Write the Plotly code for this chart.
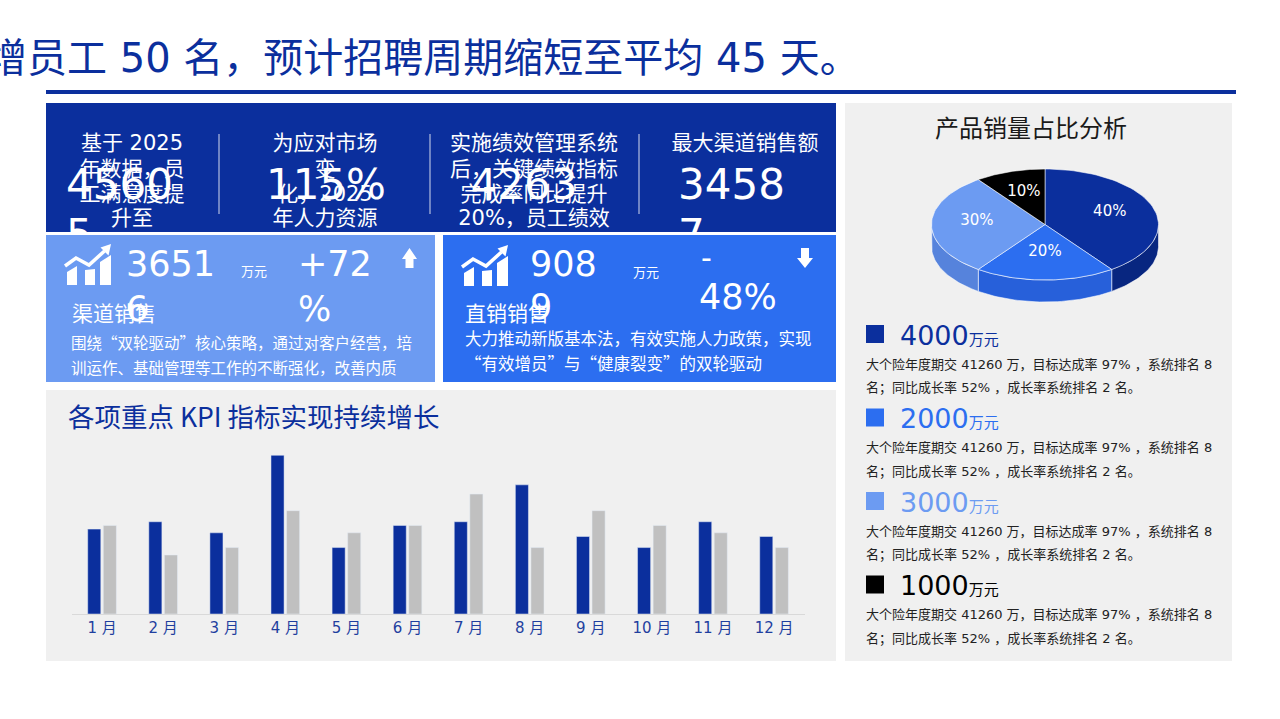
import numpy as np
import plotly.graph_objects as go

W, H = 1280, 719
FONT = "DejaVu Sans, Noto Sans CJK SC, sans-serif"
CJK = "Noto Sans CJK SC, DejaVu Sans, sans-serif"

NAVY = "#0b2f9d"
BLUE = "#2c6ef0"
LIGHT = "#6c9bf2"
PANEL = "#f0f0f0"
BAR_GRAY = "#c0c0c0"

# ---- data ----
months = ["1 月", "2 月", "3 月", "4 月", "5 月", "6 月",
          "7 月", "8 月", "9 月", "10 月", "11 月", "12 月"]
kpi_actual = [4.6, 5.0, 4.4, 8.6, 3.6, 4.8, 5.0, 7.0, 4.2, 3.6, 5.0, 4.2]
kpi_target = [4.8, 3.2, 3.6, 5.6, 4.4, 4.8, 6.5, 3.6, 5.6, 4.8, 4.4, 3.6]

pie_shares = [40, 20, 30, 10]
pie_labels = ["40%", "20%", "30%", "10%"]
pie_top_colors = [NAVY, BLUE, LIGHT, "#000000"]
pie_side_colors = ["#082680", "#2760da", "#5683dc", "#000000"]

legend_values = ["4000", "2000", "3000", "1000"]
legend_colors = [NAVY, BLUE, LIGHT, "#000000"]
legend_text1 = "大个险年度期交 41260 万，目标达成率 97% ，系统排名 8"
legend_text2 = "名；同比成长率 52% ，成长率系统排名 2 名。"

headline = "新增员工 50 名，预计招聘周期缩短至平均 45 天。"


def px(x):
    return x / W


def py(y):
    return 1 - y / H


fig = go.Figure()

# ---- 3D-looking pie on a pixel axis (x / y) ----
cx, cy, rx, ry, depth = 1045, 224.5, 113.5, 55.5, 22


def ell(t, dy=0.0):
    t = np.radians(t)
    return cx + rx * np.sin(t), cy - ry * np.cos(t) + dy


bounds = np.concatenate([[0], np.cumsum(pie_shares)]) / sum(pie_shares) * 360
edge = dict(color="rgba(255,255,255,0.55)", width=1)

# side walls (front half only)
for i in range(len(pie_shares)):
    a, b = max(bounds[i], 90), min(bounds[i + 1], 270)
    if a >= b:
        continue
    t = np.linspace(a, b, 40)
    xt, yt = ell(t)
    xb, yb = ell(t[::-1], depth)
    fig.add_trace(go.Scatter(
        x=np.concatenate([xt, xb, xt[:1]]), y=np.concatenate([yt, yb, yt[:1]]),
        mode="lines", fill="toself", fillcolor=pie_side_colors[i], line=edge,
        xaxis="x", yaxis="y", hoverinfo="skip"))

# top faces
for i in range(len(pie_shares)):
    t = np.linspace(bounds[i], bounds[i + 1], 60)
    xt, yt = ell(t)
    fig.add_trace(go.Scatter(
        x=np.concatenate([[cx], xt, [cx]]), y=np.concatenate([[cy], yt, [cy]]),
        mode="lines", fill="toself", fillcolor=pie_top_colors[i], line=edge,
        xaxis="x", yaxis="y", hoverinfo="skip"))

mid = np.radians((bounds[:-1] + bounds[1:]) / 2)
fig.add_trace(go.Scatter(
    x=cx + 0.6 * rx * np.sin(mid), y=cy - 0.55 * ry * np.cos(mid) - 3,
    mode="text", text=pie_labels,
    textfont=dict(family=FONT, size=15, color="white"),
    xaxis="x", yaxis="y", hoverinfo="skip"))

# ---- KPI bars ----
fig.add_trace(go.Bar(x=months, y=kpi_actual, marker_color=NAVY,
                     xaxis="x2", yaxis="y2", hoverinfo="skip"))
fig.add_trace(go.Bar(x=months, y=kpi_target, marker_color=BAR_GRAY,
                     xaxis="x2", yaxis="y2", hoverinfo="skip"))

# ---- texts in the dark banner (clipped to the banner) ----
banner = [
    (132, 145, "基于 2025", 21, "middle center"),
    (132, 171, "年数据，员", 21, "middle center"),
    (132, 196, "工满意度提", 21, "middle center"),
    (132, 220, "升至", 21, "middle center"),
    (66, 188, "4560", 42, "middle right"),
    (66, 238, "5", 42, "middle right"),
    (325, 145, "为应对市场", 21, "middle center"),
    (325, 171, "变", 21, "middle center"),
    (325, 196, "化，2025", 21, "middle center"),
    (325, 220, "年人力资源", 21, "middle center"),
    (326, 188, "115%", 42, "middle center"),
    (534, 145, "实施绩效管理系统", 21, "middle center"),
    (534, 171, "后，关键绩效指标", 21, "middle center"),
    (534, 196, "完成率同比提升", 21, "middle center"),
    (534, 220, "20%，员工绩效", 21, "middle center"),
    (524, 188, "4263", 42, "middle center"),
    (745, 145, "最大渠道销售额", 21, "middle center"),
    (678, 188, "3458", 42, "middle right"),
    (678, 238, "7", 42, "middle right"),
]
fig.add_trace(go.Scatter(
    x=[b[0] for b in banner], y=[b[1] for b in banner],
    text=[b[2] for b in banner], textposition=[b[4] for b in banner],
    mode="text", cliponaxis=True,
    textfont=dict(family=FONT, size=[b[3] for b in banner], color="white"),
    xaxis="x3", yaxis="y3", hoverinfo="skip"))

# ---- panels ----
shapes = []


def rect(x0, y0, x1, y1, color):
    shapes.append(dict(type="rect", xref="paper", yref="paper", layer="below",
                       x0=px(x0), x1=px(x1), y0=py(y1), y1=py(y0),
                       fillcolor=color, line=dict(width=0)))


rect(46, 90, 1236, 94, NAVY)
rect(46, 103, 836, 232, NAVY)
rect(46, 235, 435, 382, LIGHT)
rect(443, 235, 836, 382, BLUE)
rect(46, 390, 836, 661, PANEL)
rect(845, 103, 1232, 661, PANEL)

for xd in [219, 430, 639]:
    shapes.append(dict(type="line", xref="x", yref="y", x0=xd, x1=xd, y0=134, y1=214,
                       line=dict(color="rgba(255,255,255,0.55)", width=1.5)))


def icon(dx, dy):
    def p(pts):
        return "M " + " L ".join(f"{x + dx},{y + dy}" for x, y in pts) + " Z"
    white = dict(fillcolor="white", line=dict(width=0))
    shapes.append(dict(type="path", xref="x", yref="y",
                       path=p([(67, 285), (67, 272), (77, 266), (77, 285)]), **white))
    shapes.append(dict(type="path", xref="x", yref="y",
                       path=p([(85, 285), (85, 270), (95, 269), (95, 285)]), **white))
    shapes.append(dict(type="path", xref="x", yref="y",
                       path=p([(100, 285), (100, 262), (111, 255), (111, 285)]), **white))
    shapes.append(dict(type="path", xref="x", yref="y",
                       path=f"M {65 + dx},{266 + dy} L {76 + dx},{258 + dy} L {89 + dx},{265 + dy} L {104.5 + dx},{251 + dy}",
                       line=dict(color="white", width=3.5)))
    shapes.append(dict(type="path", xref="x", yref="y",
                       path=p([(111, 244), (108.5, 255.5), (100.5, 247.5)]), **white))


icon(0, 0)
icon(397, 1)

shapes.append(dict(type="path", xref="x", yref="y", fillcolor="white", line=dict(width=0),
                   path="M 402,259 L 409.5,248 L 417,259 L 413.5,259 L 413.5,268 L 405.5,268 L 405.5,259 Z"))
shapes.append(dict(type="path", xref="x", yref="y", fillcolor="white", line=dict(width=0),
                   path="M 801,248 L 809,248 L 809,258 L 813,258 L 805,268 L 797,258 L 801,258 Z"))

for i, c in enumerate(legend_colors):
    yc = 334 + 83.5 * i
    shapes.append(dict(type="rect", xref="x", yref="y", x0=866, x1=884, y0=yc - 9, y1=yc + 9,
                       fillcolor=c, line=dict(width=0)))

# ---- annotations ----
ann = []


def text(x, y, s, size, color="white", anchor="left", family=FONT):
    ann.append(dict(x=x, y=y, xref="x", yref="y", text=s, showarrow=False,
                    xanchor=anchor, yanchor="middle",
                    font=dict(family=family, size=size, color=color)))


text(862, 58, headline, 40, NAVY, "right", FONT)

# card 1
text(124, 264, "3651", 35)
text(124, 309, "6", 35)
text(239, 271, "万元", 13)
text(296, 264, "+72", 35)
text(296, 309, "%", 35)
text(70, 312, "渠道销售", 21, family=CJK)
text(69, 342, "围绕“双轮驱动”核心策略，通过对客户经营，培", 15.5, family=CJK)
text(69, 367, "训运作、基础管理等工作的不断强化，改善内质", 15.5, family=CJK)

# card 2
text(528, 264, "908", 35)
text(528, 307, "9", 35)
text(631, 272, "万元", 13)
text(699, 257, "-", 30)
text(697, 297, "48%", 35)
text(463, 312, "直销销售", 21, family=CJK)
text(463, 338, "大力推动新版基本法，有效实施人力政策，实现", 16.5, family=CJK)
text(463, 363, "“有效增员”与“健康裂变”的双轮驱动", 16.5, family=CJK)

# chart titles
text(66, 415, "各项重点 KPI 指标实现持续增长", 26.5, NAVY, family=CJK)
text(1031, 126, "产品销量占比分析", 24, "#1a1a1a", "center", CJK)

# right legend
for i, (v, c) in enumerate(zip(legend_values, legend_colors)):
    yc = 335 + 83.5 * i
    text(898, yc, f"{v}<span style='font-size:15px'>万元</span>", 27, c)
    text(864, yc + 29, legend_text1, 13, "#222222")
    text(864, yc + 53, legend_text2, 13, "#222222")

fig.update_layout(
    width=W, height=H,
    margin=dict(l=0, r=0, t=0, b=0, pad=0),
    paper_bgcolor="white",
    plot_bgcolor="rgba(0,0,0,0)",
    showlegend=False,
    hovermode=False,
    font=dict(family=FONT),
    barmode="group",
    bargap=0.49,
    bargroupgap=0.16,
    shapes=shapes,
    annotations=ann,
    xaxis=dict(domain=[0, 1], range=[0, W], visible=False, fixedrange=True),
    yaxis=dict(domain=[0, 1], range=[H, 0], visible=False, fixedrange=True),
    xaxis2=dict(domain=[px(71.5), px(804.6)], anchor="y2", type="category",
                showline=True, linecolor="#d9d9d9", linewidth=1, showgrid=False,
                ticks="", tickfont=dict(family=FONT, size=15, color="#1f3f9f"),
                fixedrange=True),
    yaxis2=dict(domain=[py(614), py(440)], anchor="x2", range=[0, 9.43],
                visible=False, fixedrange=True),
    xaxis3=dict(domain=[px(46), px(836)], anchor="y3", range=[46, 836],
                visible=False, fixedrange=True),
    yaxis3=dict(domain=[py(232), py(103)], anchor="x3", range=[232, 103],
                visible=False, fixedrange=True),
)

fig.write_html("out.html", config={"displayModeBar": False},
               post_script="document.body.style.margin='0';document.body.style.overflow='hidden';")
